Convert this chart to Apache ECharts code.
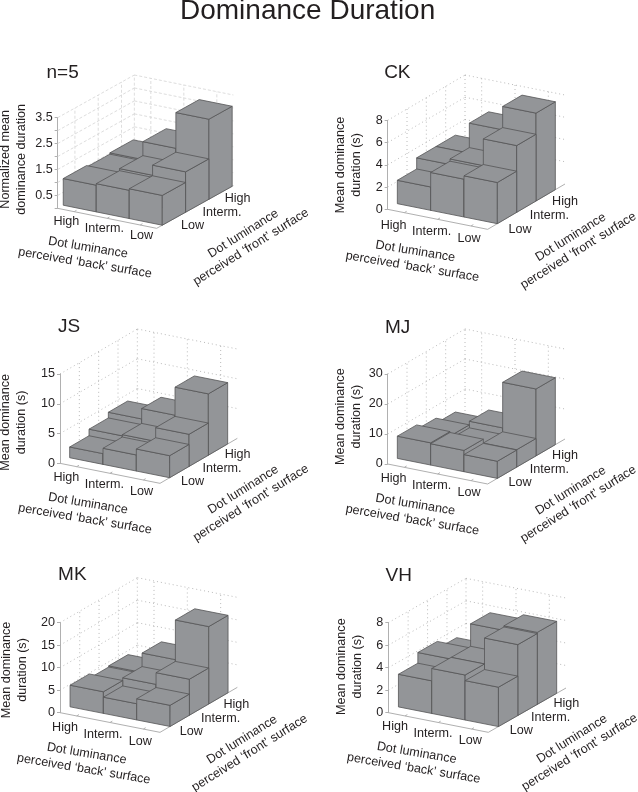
<!DOCTYPE html>
<html><head><meta charset="utf-8">
<style>html,body{margin:0;padding:0;background:#fff}#c{width:638px;height:792px}</style>
<script src="https://cdn.jsdelivr.net/npm/echarts@6/dist/echarts.min.js"></script>
</head><body><div id="c"></div>
<script>
// ---- data: rows go front (Low 'front') to back (High 'front'); columns High, Interm., Low 'back'
const backLabels = ['High', 'Interm.', 'Low'];
const frontLabels = ['Low', 'Interm.', 'High'];
const panelNames = ['n=5', 'CK', 'JS', 'MJ', 'MK', 'VH'];
const valuesN5 = [[1.03, 1.09, 1.15], [0.97, 1.17, 1.56], [1.02, 1.71, 3.09]];
const valuesCK = [[2.1, 3.4, 3.7], [3.1, 3.6, 6.0], [3.1, 5.8, 7.9]];
const valuesJS = [[1.8, 2.7, 3.7], [2.9, 3.1, 5.4], [3.85, 5.6, 10.3]];
const valuesMJ = [[7.4, 7.1, 5.7], [5.9, 4.9, 5.8], [4.2, 7.1, 22.3]];
const valuesMK = [[4.8, 3.6, 4.7], [3.85, 5.4, 8.0], [4.1, 8.4, 17.2]];
const valuesVH = [[2.9, 4.0, 3.5], [3.85, 4.0, 6.3], [3.2, 6.0, 6.4]];
const yLabelsN5 = [0.5, 1.5, 2.5, 3.5];

// ---- layout (zoomed-crop units are divided by 3 below)
const FONT = '"Liberation Sans", Arial, sans-serif';
const LABEL_SIZE = 12.6;
const Z = v => v / 3;
const offs = [[0,40],[320,40],[0,300],[320,300],[0,550],[320,550]];
const panels = [
 {vals:valuesN5,max:3.5,step:0.5,labels:yLabelsN5,yname:'Normalized mean\ndominance duration',
  A:[173,505],zH:272,ex:[297,60],ey:[230,-128],rs:0.073,rw:0.304,high:[199,545],nameC:[42,358],title:[188,98],dash:[3,2],gc:'#d4d4d4'},
 {vals:valuesCK,max:8,step:2,yname:'Mean dominance\nduration (s)',
  A:[203,508],zH:267,ex:[300,60],ey:[232,-136],rs:0.125,rw:0.25,high:[221,556],nameC:[85,375],title:[232,98],dash:[1,3],gc:'#a8a8a8'},
 {vals:valuesJS,max:15,step:5,yname:'Mean dominance\nduration (s)',
  A:[180,490],zH:268,ex:[300,60],ey:[232,-135],rs:0.125,rw:0.25,high:[199,533],nameC:[42,367],title:[207,80],dash:[1,3],gc:'#a8a8a8'},
 {vals:valuesMJ,max:30,step:10,yname:'Mean dominance\nduration (s)',
  A:[203,492],zH:270,ex:[300,60],ey:[232,-135],rs:0.125,rw:0.25,high:[221,536],nameC:[85,350],title:[233,82],dash:[1,3],gc:'#a8a8a8'},
 {vals:valuesMK,max:20,step:5,yname:'Mean dominance\nduration (s)',
  A:[180,488],zH:270,ex:[300,59],ey:[232,-135],rs:0.13,rw:0.25,high:[195,533],nameC:[45,360],title:[217,75],dash:[1,3],gc:'#a8a8a8'},
 {vals:valuesVH,max:8,step:2,yname:'Mean dominance\nduration (s)',
  A:[205,488],zH:270,ex:[300,59],ey:[233,-133],rs:0.13,rw:0.25,high:[225,531],nameC:[90,350],title:[236,76],dash:[1,3],gc:'#a8a8a8'}
];
const textOffs = {
 backCols:[[0,0],[114,20],[226,41]],
 frontRows:[[379,12],[467,-28],[514,-70]],
 backName:[[65,78],[56,124]],
 frontName:[[531,36],[554,76]]
};
const BACK_ROT = -9.5 * Math.PI / 180, FRONT_ROT = 32 * Math.PI / 180;
const BAR_FILL = '#939598', BAR_EDGE = '#555557', AXIS_C = '#b0b0b0', TXT = '#231f20';

const grids = [], xAxes = [], yAxes = [], series = [], titles = [], graphics = [];
titles.push({text:'Dominance Duration',left:180,top:-3,padding:0,textStyle:{fontFamily:FONT,fontSize:28,fontWeight:'normal',color:TXT}});

function txt(x, y, s, rot){
  graphics.push({type:'text',x:x,y:y,rotation:rot||0,silent:true,
    style:{text:s,fontFamily:FONT,fontSize:LABEL_SIZE,fill:TXT,align:'center',verticalAlign:'middle',lineHeight:16}});
}

panels.forEach((p, i) => {
  const [ox, oy] = offs[i];
  const ax = ox + Z(p.A[0]), ay = oy + Z(p.A[1]);
  const h = Z(p.zH), w = Z(p.ex[0]);
  const ex = [Z(p.ex[0]), Z(p.ex[1])], ey = [Z(p.ey[0]), Z(p.ey[1])];
  grids.push({left:ax, top:ay - h, width:w, height:h});
  xAxes.push({type:'value',gridIndex:i,min:0,max:3,show:false});
  const yAxis = {type:'value',gridIndex:i,min:0,max:p.max,interval:p.step,
    axisLine:{show:true,onZero:false,lineStyle:{color:AXIS_C,width:1}},
    axisTick:{show:true,length:3,lineStyle:{color:AXIS_C}},
    splitLine:{show:false},
    axisLabel:{show:true,margin:5,fontFamily:FONT,fontSize:LABEL_SIZE,color:TXT}};
  if (p.labels) yAxis.axisLabel.customValues = p.labels;
  yAxes.push(yAxis);

  // projected point: col along the back axis (0..3), depth fraction along the front axis, height z
  const proj = (api, col, depth, z) => {
    const c = api.coord([col, z]);
    return [c[0] + depth * ey[0], c[1] + col / 3 * ex[1] + depth * ey[1]];
  };

  // walls, floor edges and floor ticks
  const zTicks = [];
  for (let k = 0; k * p.step <= p.max + 1e-9; k++) zTicks.push(k * p.step);
  series.push({type:'custom',coordinateSystem:'cartesian2d',xAxisIndex:i,yAxisIndex:i,silent:true,z:1,
    data:[[0,0]],clip:false,
    renderItem(params, api){
      const kids = [];
      const line = (a, b, color, dash, wd) => kids.push({type:'line',
        shape:{x1:a[0],y1:a[1],x2:b[0],y2:b[1]},
        style:{stroke:color,lineWidth:wd||1,lineDash:dash||null,fill:null}});
      zTicks.forEach(z => {
        if (z > 0) {
          line(proj(api,0,0,z), proj(api,0,1,z), p.gc, p.dash, 0.8);
          line(proj(api,0,1,z), proj(api,3,1,z), p.gc, p.dash, 0.8);
        }
      });
      [0,1,2].forEach(k => {
        const d = p.rs + (k + 0.5) * p.rw;
        line(proj(api,0,d,0), proj(api,0,d,p.max), p.gc, p.dash, 0.8);
        line(proj(api,k+0.5,1,0), proj(api,k+0.5,1,p.max), p.gc, p.dash, 0.8);
        line(proj(api,k+0.5,0,0), proj(api,k+0.5,0.03,0), AXIS_C);
        line(proj(api,3,d,0), proj(api,2.9,d,0), AXIS_C);
      });
      line(proj(api,0,1,0), proj(api,0,1,p.max), p.gc, p.dash, 0.8);
      line(proj(api,0,0,0), proj(api,3,0,0), AXIS_C);
      line(proj(api,3,0,0), proj(api,3,1,0), AXIS_C);
      return {type:'group',children:kids};
    }});

  // bars: back row first, left to right, so nearer faces paint over farther ones
  const barData = [];
  for (let r = 2; r >= 0; r--) for (let c = 0; c < 3; c++) barData.push([c, p.vals[r][c], r]);
  series.push({type:'custom',coordinateSystem:'cartesian2d',xAxisIndex:i,yAxisIndex:i,silent:true,z:2,clip:false,
    data:barData,
    renderItem(params, api){
      const c = api.value(0), v = api.value(1), r = api.value(2);
      const d0 = p.rs + r * p.rw, d1 = d0 + p.rw;
      const P = (cc, d, z) => proj(api, cc, d, z);
      const st = {fill:BAR_FILL,stroke:BAR_EDGE,lineWidth:0.8,lineJoin:'round'};
      const poly = pts => ({type:'polygon',shape:{points:pts},style:st});
      return {type:'group',children:[
        poly([P(c,d0,0),P(c+1,d0,0),P(c+1,d0,v),P(c,d0,v)]),
        poly([P(c+1,d0,0),P(c+1,d1,0),P(c+1,d1,v),P(c+1,d0,v)]),
        poly([P(c,d0,v),P(c+1,d0,v),P(c+1,d1,v),P(c,d1,v)])
      ]};
    }});

  // texts
  titles.push({text:panelNames[i],left:ox + Z(p.title[0]),top:oy + Z(p.title[1]) - 9.5,padding:0,textAlign:'center',
    textStyle:{fontFamily:FONT,fontSize:19,fontWeight:'normal',color:TXT}});
  txt(ox + Z(p.nameC[0]), oy + Z(p.nameC[1]), p.yname, Math.PI / 2);
  const hx = p.high[0], hy = p.high[1];
  backLabels.forEach((s, k) => txt(ox + Z(hx + textOffs.backCols[k][0]), oy + Z(hy + textOffs.backCols[k][1]), s));
  frontLabels.forEach((s, k) => txt(ox + Z(hx + textOffs.frontRows[k][0]), oy + Z(hy + textOffs.frontRows[k][1]), s));
  txt(ox + Z(hx + textOffs.backName[0][0]), oy + Z(hy + textOffs.backName[0][1]), 'Dot luminance', BACK_ROT);
  txt(ox + Z(hx + textOffs.backName[1][0]), oy + Z(hy + textOffs.backName[1][1]), 'perceived \u2018back\u2019 surface', BACK_ROT);
  txt(ox + Z(hx + textOffs.frontName[0][0]), oy + Z(hy + textOffs.frontName[0][1]), 'Dot luminance', FRONT_ROT);
  txt(ox + Z(hx + textOffs.frontName[1][0]), oy + Z(hy + textOffs.frontName[1][1]), 'perceived \u2018front\u2019 surface', FRONT_ROT);
});

const chart = echarts.init(document.getElementById('c'), null, {renderer:'canvas'});
chart.setOption({backgroundColor:'#fff',animation:false,title:titles,grid:grids,xAxis:xAxes,yAxis:yAxes,series:series,
  graphic:{elements:graphics}});
</script></body></html>
